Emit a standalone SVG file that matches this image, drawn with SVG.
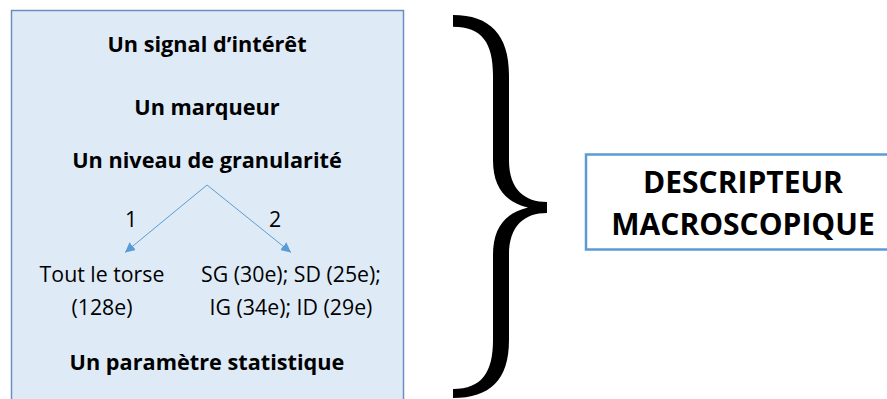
<svg xmlns="http://www.w3.org/2000/svg" width="887" height="399" viewBox="0 0 887 399">
<defs>
<style>
.b{font-family:"Open Sans","Noto Sans",sans-serif;font-weight:bold;font-size:21.7px;fill:#000;text-anchor:middle}
.r{font-family:"Open Sans","Noto Sans",sans-serif;font-size:21.3px;fill:#000;text-anchor:middle}
.big{font-family:"Open Sans","Noto Sans",sans-serif;font-weight:bold;font-size:30px;fill:#000;text-anchor:middle}
.conn{stroke:#5B9BD5;stroke-width:1;fill:none}
</style>
<marker id="ah" viewBox="0 0 10 10" refX="10" refY="5" markerWidth="10" markerHeight="10" markerUnits="userSpaceOnUse" orient="auto">
<path d="M0,0 L10,5 L0,10 Z" fill="#5B9BD5"/>
</marker>
</defs>
<g id="left-box">
<rect x="11.5" y="10.5" width="392" height="392" fill="#DEEBF7" stroke="#6C8EBF" stroke-width="1.5"/>
<text class="b" x="207" y="52">Un signal d’intérêt</text>
<text class="b" x="207" y="115">Un marqueur</text>
<text class="b" x="207" y="168">Un niveau de granularité</text>
<text class="r" x="131" y="227">1</text>
<text class="r" x="275" y="227">2</text>
<text class="r" x="102" y="282">Tout le torse</text>
<text class="r" x="102" y="315">(128e)</text>
<text class="r" x="291" y="282">SG (30e); SD (25e);</text>
<text class="r" x="291" y="315">IG (34e); ID (29e)</text>
<text class="b" x="207" y="370">Un paramètre statistique</text>
</g>
<g id="connectors">
<line class="conn" x1="207" y1="185" x2="125" y2="252.5" marker-end="url(#ah)"/>
<line class="conn" x1="207" y1="185" x2="291" y2="252.5" marker-end="url(#ah)"/>
</g>
<g id="brace">
<path d="M453,15 C490,15 509,35 509,75 L509,160 C509,190 525,202 547,202 L547,213 C525,213 509,225 509,255 L509,340 C509,380 490,398 453,398 L453,389 C482,389 493,372 493,340 L493,255 C493,228 505,213 528,207.5 C505,202 493,187 493,160 L493,75 C493,43 482,26.7 453,26.7 Z" fill="#000"/>
</g>
<g id="right-box">
<rect x="586" y="154.5" width="310" height="95" fill="#fff" stroke="#5B9BD5" stroke-width="2.5"/>
<text class="big" x="743" y="193">DESCRIPTEUR</text>
<text class="big" x="743" y="235">MACROSCOPIQUE</text>
</g>
</svg>
